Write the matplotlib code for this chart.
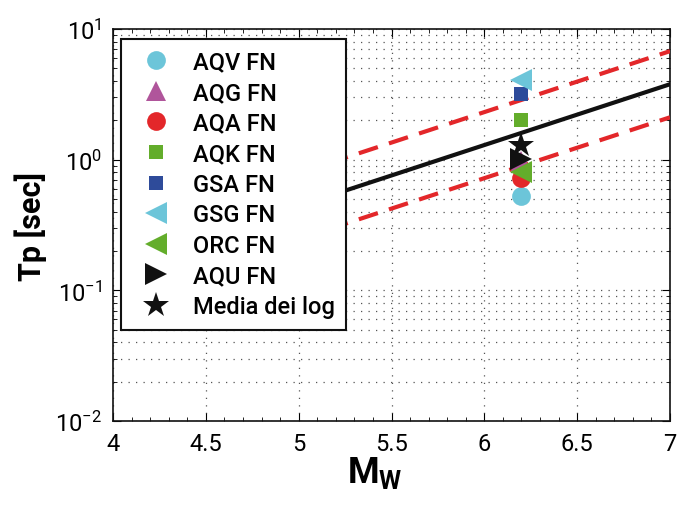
import numpy as np
import matplotlib
matplotlib.use('Agg')
import matplotlib.pyplot as plt
from matplotlib.ticker import MultipleLocator, LogLocator, NullFormatter

plt.rcParams['font.family'] = ['Roboto', 'DejaVu Sans']

# Stazioni (tutte a Mw = 6.2) e periodi impulsivi
mw_evento = 6.2
stazioni = ['AQV FN', 'AQG FN', 'AQA FN', 'AQK FN', 'GSA FN', 'GSG FN', 'ORC FN', 'AQU FN']
tp_stazioni = [0.53, 0.98, 0.73, 2.01, 3.18, 4.09, 0.80, 1.02]
colori = ['#6cc5d9', '#b0559b', '#e3272a', '#63ad2b', '#2e4b9a', '#6cc5d9', '#63ad2b', '#111111']
marker = ['o', '^', 'o', 's', 's', '<', '<', '>']
dim_marker = [13.5, 14.5, 13.5, 10.5, 10.5, 15.5, 15.5, 15.5]
tp_media = 1.30

# Relazione Tp - Mw (mediana e +/- sigma)
mw_linea = [5.0, 7.0]
tp_mediana = [0.443, 3.78]
tp_piu_sigma = [0.79, 6.77]
tp_meno_sigma = [0.247, 2.11]

fig = plt.figure(figsize=(6.86, 5.06), dpi=100)
ax = fig.add_axes([0.1647, 0.166, 0.812, 0.7747])

ax.plot(mw_linea, tp_mediana, color='#111111', lw=3.0, zorder=3)
ax.plot(mw_linea, tp_piu_sigma, color='#e3272a', lw=3.0, dashes=(4.8, 2.8), zorder=3)
ax.plot(mw_linea, tp_meno_sigma, color='#e3272a', lw=3.0, dashes=(4.8, 2.8), zorder=3)

for nome, tp, c, m, s in zip(stazioni, tp_stazioni, colori, marker, dim_marker):
    ax.plot([mw_evento], [tp], linestyle='none', marker=m, ms=s, color=c,
            markeredgewidth=0, label=nome, zorder=4)
ax.plot([mw_evento], [tp_media], linestyle='none', marker='*', ms=19, color='#111111',
        markeredgewidth=0, label='Media dei log', zorder=5)

ax.set_yscale('log')
ax.set_xlim(4, 7)
ax.set_ylim(1e-2, 1e1)
ax.xaxis.set_major_locator(MultipleLocator(0.5))
ax.xaxis.set_minor_locator(MultipleLocator(0.1))
ax.yaxis.set_minor_locator(LogLocator(base=10, subs=np.arange(2, 10)))
ax.yaxis.set_minor_formatter(NullFormatter())
ax.set_xticks([4, 4.5, 5, 5.5, 6, 6.5, 7])
ax.set_xticklabels(['4', '4.5', '5', '5.5', '6', '6.5', '7'])

ax.grid(True, which='major', axis='both', color='#555555', linestyle=(0, (1, 5)), lw=0.9)
ax.grid(True, which='minor', axis='y', color='#555555', linestyle=(0, (1, 5)), lw=0.9)
ax.tick_params(which='both', direction='in', top=True, right=True, labelsize=17, pad=8)
ax.tick_params(which='major', length=6, width=0.8)
ax.tick_params(which='minor', length=3, width=0.6)
for sp in ax.spines.values():
    sp.set_linewidth(1.2)
    sp.set_color('#111111')

ax.set_xlabel(r'M$_\mathregular{W}$', fontsize=26, fontweight='bold', labelpad=0)
ax.xaxis.set_label_coords(0.47, -0.085, transform=ax.transAxes)
ax.xaxis.label.set_va('top')
ax.set_ylabel('Tp [sec]', fontsize=22, fontweight='bold', labelpad=6)

leg = ax.legend(loc='upper left', bbox_to_anchor=(0.014, 0.975), fontsize=17,
                frameon=True, fancybox=False, framealpha=1, edgecolor='#111111',
                handlelength=2.0, handletextpad=0.55, labelspacing=0.32, borderpad=0.5,
                borderaxespad=0)
leg.get_frame().set_linewidth(1.5)
for t in leg.get_texts():
    t.set_fontweight('medium')

plt.savefig('out.png', dpi=100)
